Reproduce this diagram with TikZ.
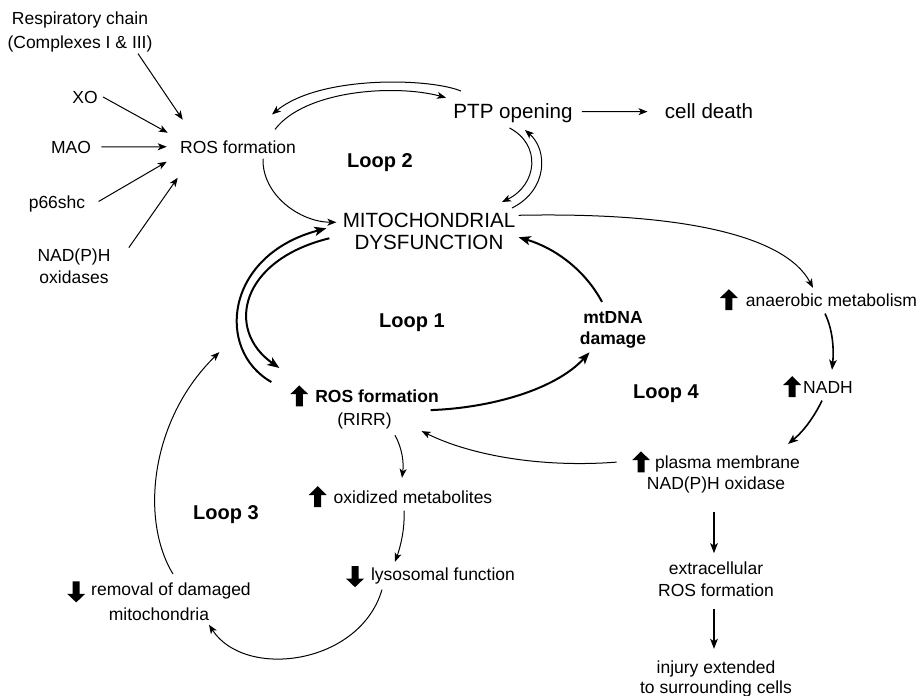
\documentclass[tikz,border=0pt]{standalone}
\usepackage{fontspec}
\setmainfont{Liberation Sans}
\usetikzlibrary{arrows.meta, positioning}

% bold up / down marks used inside the labels
\newcommand{\upmark}{\tikz[baseline=0pt,x=1pt,y=1pt]\fill (-1.75,-2.1) -- (-1.75,4) -- (-4.5,4) -- (0,8.4) -- (4.5,4) -- (1.75,4) -- (1.75,-2.1) -- cycle;}
\newcommand{\downmark}{\tikz[baseline=0pt,x=1pt,y=1pt]\fill (-1.75,6.9) -- (-1.75,0.7) -- (-4.5,0.7) -- (0,-3.6) -- (4.5,0.7) -- (1.75,0.7) -- (1.75,6.9) -- cycle;}

\begin{document}
\begin{tikzpicture}[
  x=0.5pt, y=-0.5pt,
  txt/.style={inner sep=0pt, align=center, font=\fontsize{8.75}{11.5}\selectfont},
  bigtxt/.style={txt, font=\fontsize{10.3}{11}\selectfont},
  looplbl/.style={inner sep=0pt, font=\fontsize{10}{12}\selectfont\bfseries},
  arr/.style={-{Stealth[length=4.5pt,width=3.5pt,inset=1.2pt]}, line width=0.5pt},
  marr/.style={-{Stealth[length=5pt,width=3.8pt,inset=1.2pt]}, line width=0.8pt},
  tarr/.style={-{Stealth[length=6pt,width=4.6pt,inset=1.5pt]}, line width=1pt}
]
\useasboundingbox (0,0) rectangle (917,696);

% ROS sources
\node[txt, anchor=north, font=\fontsize{8.75}{12}\selectfont] (resp) at (80,11.5) {Respiratory chain\\(Complexes I \& III)};
\node[txt, anchor=base] (xo) at (85,103) {XO};
\node[txt, anchor=base] (mao) at (71,153) {MAO};
\node[txt, anchor=base] (p66) at (57,208) {p66shc};
\node[txt, anchor=north, font=\fontsize{8.75}{11}\selectfont] (nadph) at (74,248.6) {NAD(P)H\\oxidases};
\node[txt, anchor=base] (rostop) at (238,153) {ROS formation};

% PTP and mitochondria
\node[bigtxt, anchor=base] (ptp) at (513,119) {PTP opening};
\node[bigtxt, anchor=base] (death) at (709,119) {cell death};
\node[bigtxt, anchor=north] (mito) at (429,212.6) {MITOCHONDRIAL\\DYSFUNCTION};
\node[txt, anchor=north, font=\fontsize{8.75}{10.5}\selectfont\bfseries] (mtdna) at (613,311.5) {mtDNA\\damage};

% loop 4 side
\node[txt, anchor=base] (anaer) at (818.5,306) {\upmark\hspace{4pt}anaerobic metabolism};
\node[txt, anchor=base] (nadh) at (818,393) {\upmark\hspace{1pt}NADH};
\node[txt, anchor=north, font=\fontsize{8.75}{10.5}\selectfont] (plasma) at (716,451) {\upmark\hspace{2.5pt}plasma membrane\\NAD(P)H oxidase};
\node[txt, below=34pt of plasma, font=\fontsize{8.75}{11}\selectfont] (extra) {extracellular\\ROS formation};
\node[txt, below=32pt of extra, font=\fontsize{8.75}{10}\selectfont] (injury) {injury extended\\to surrounding cells};

% RIRR and loop 3 side
\node[txt, anchor=north] (rosb) at (364.5,385) {\upmark\hspace{3.5pt}\textbf{ROS formation}\\(RIRR)};
\node[txt, anchor=base] (oxid) at (400.5,503) {\upmark\hspace{3.5pt}oxidized metabolites};
\node[txt, anchor=base] (lyso) at (430.5,580) {\downmark\hspace{3.5pt}lysosomal function};
\node[txt, anchor=north, font=\fontsize{8.75}{12.5}\selectfont] (removal) at (159,581) {\downmark\hspace{3pt}removal of damaged\\mitochondria};

% loop labels
\node[looplbl, anchor=base] (loop1) at (412,327) {Loop 1};
\node[looplbl, anchor=base] (loop2) at (380,167) {Loop 2};
\node[looplbl, anchor=base] (loop3) at (226,519) {Loop 3};
\node[looplbl, anchor=base] (loop4) at (666,398) {Loop 4};

% inputs to ROS formation
\draw[arr] ([shift={(58,1)}]resp.south) -- ([shift={(3,-27)}]rostop.west);
\draw[arr] ([shift={(5,0)}]xo.east) -- ([shift={(-12,-14)}]rostop.west);
\draw[arr] ([shift={(10,0)}]mao.east) -- ([shift={(-13,0)}]rostop.west);
\draw[arr] ([shift={(13,-2)}]p66.east) -- ([shift={(-13,15)}]rostop.west);
\draw[arr] ([shift={(18,-1)}]nadph.north east) -- ([shift={(-2,31)}]rostop.west);

% loop 2
\draw[arr] ([shift={(25,5)}]rostop.south) .. controls (262,195) and (300,222) .. ([shift={(-6,-9)}]mito.west);
\draw[arr] ([shift={(8,-12.6)}]ptp.north west) .. controls (430,78) and (320,75) .. ([shift={(34,-25.5)}]rostop.north);
\draw[arr] ([shift={(37,-10.5)}]rostop.north) .. controls (305,90) and (395,84) .. ([shift={(-7,-16)}]ptp.west);
\draw[arr] ([shift={(-3.5,4.3)}]ptp.south) .. controls (542,145) and (537,185) .. ([shift={(73,-10.6)}]mito.north);
\draw[arr] ([shift={(83,-4.6)}]mito.north) .. controls (548,190) and (548,150) .. ([shift={(12,6.3)}]ptp.south);
\draw[arr] ([shift={(9,-2)}]ptp.east) -- ([shift={(-17,0)}]death.west);

% loop 4
\draw[arr] ([shift={(3,-16)}]mito.east) .. controls (680,212) and (785,235) .. ([shift={(-5.5,-1)}]anaer.north);
\draw[marr] ([shift={(6.5,3)}]anaer.south) .. controls (833,330) and (834,350) .. ([shift={(14,-6)}]nadh.north);
\draw[marr] ([shift={(4,3)}]nadh.south) .. controls (815,415) and (805,430) .. ([shift={(72,-7)}]plasma.north);
\draw[arr] ([shift={(-15,-10)}]plasma.west) .. controls (540,468) and (470,455) .. ([shift={(-17.5,24)}]rosb.east);
\draw[marr] ([shift={(-2,19)}]plasma.south) -- ([shift={(-2,-8)}]extra.north);
\draw[marr] ([shift={(-2,12)}]extra.south) -- ([shift={(-2,-12)}]injury.north);

% loop 1
\draw[tarr] ([shift={(-8.5,3)}]rosb.east) .. controls (490,408) and (555,390) .. ([shift={(10,3.3)}]mtdna.south west);
\draw[tarr] ([shift={(-11,-9.6)}]mtdna.north) .. controls (585,270) and (555,248) .. ([shift={(3,6)}]mito.east);
\draw[tarr] ([shift={(-18.5,-3)}]rosb.north west) .. controls (215,350) and (225,255) .. ([shift={(-16,-3)}]mito.west);
\draw[tarr] ([shift={(-13,7)}]mito.west) .. controls (240,260) and (225,330) .. ([shift={(-10.5,-17)}]rosb.north west);

% loop 3
\draw[arr] ([shift={(30.5,6)}]rosb.south) .. controls (402,448) and (404,462) .. ([shift={(1.5,-8)}]oxid.north);
\draw[arr] ([shift={(3.5,3)}]oxid.south) .. controls (405,530) and (400,548) .. ([shift={(-35.5,-4)}]lyso.north);
\draw[arr] ([shift={(-48.5,2)}]lyso.south) .. controls (360,665) and (245,680) .. ([shift={(50,4)}]removal.south);
\draw[arr] ([shift={(14,-7)}]removal.north) .. controls (140,520) and (150,420) .. ([shift={(-70.5,-55)}]rosb.west);

\end{tikzpicture}
\end{document}
